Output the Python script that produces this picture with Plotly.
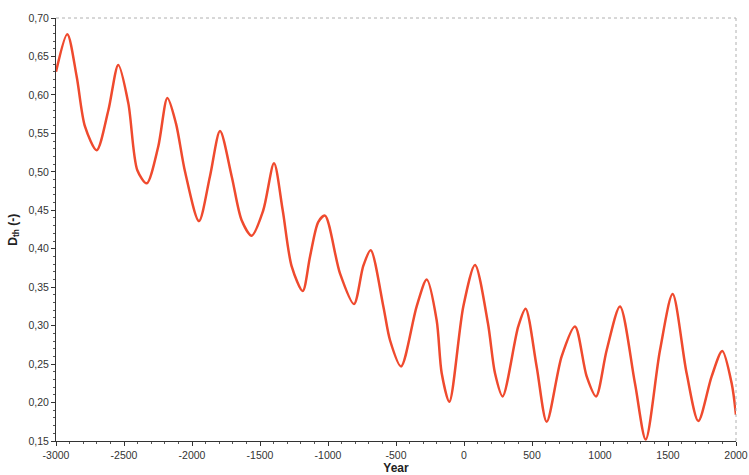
import plotly.graph_objects as go

years = [-3000, -2917, -2848, -2787, -2701, -2615, -2542, -2468, -2402, -2333,
         -2248, -2181, -2118, -2051, -1949, -1868, -1794, -1708, -1635, -1561,
         -1476, -1397, -1333, -1267, -1186, -1132, -1071, -1022, -912, -809,
         -740, -686, -593, -544, -463, -348, -274, -201, -164, -108,
         -5, 81, 176, 228, 284, 399, 453, 534, 608, 718,
         816, 902, 971, 1049, 1147, 1257, 1336, 1441, 1534, 1637,
         1723, 1821, 1899, 1968, 2000]
dth = [0.630, 0.679, 0.624, 0.559, 0.528, 0.580, 0.639, 0.589, 0.502, 0.485,
       0.533, 0.596, 0.563, 0.500, 0.436, 0.494, 0.553, 0.494, 0.437, 0.417,
       0.450, 0.511, 0.450, 0.377, 0.345, 0.390, 0.435, 0.443, 0.368, 0.328,
       0.378, 0.398, 0.325, 0.281, 0.247, 0.325, 0.360, 0.307, 0.238, 0.201,
       0.325, 0.379, 0.303, 0.238, 0.208, 0.299, 0.322, 0.247, 0.175, 0.260,
       0.299, 0.234, 0.208, 0.268, 0.325, 0.225, 0.152, 0.268, 0.341, 0.238,
       0.176, 0.234, 0.267, 0.225, 0.184]

x_ticks = [-3000, -2500, -2000, -1500, -1000, -500, 0, 500, 1000, 1500, 2000]
x_labels = ["-3000", "-2500", "-2000", "-1500", "-1000", "-500", "0", "500", "1000", "1500", "2000"]
y_ticks = [0.15, 0.20, 0.25, 0.30, 0.35, 0.40, 0.45, 0.50, 0.55, 0.60, 0.65, 0.70]
y_labels = ["0,15", "0,20", "0,25", "0,30", "0,35", "0,40", "0,45", "0,50", "0,55", "0,60", "0,65", "0,70"]

fig = go.Figure()
fig.add_trace(go.Scatter(
    x=years, y=dth, mode="lines",
    line=dict(color="#ef4a2e", width=2.5, shape="spline", smoothing=0.8),
    showlegend=False, hoverinfo="skip"))

font_family = "Liberation Sans, Arial, sans-serif"
tickfont = dict(family=font_family, size=10.5, color="#333333")

fig.update_layout(
    width=749, height=475,
    margin=dict(l=56, r=13, t=18, b=34, autoexpand=False),
    paper_bgcolor="white", plot_bgcolor="white",
    xaxis=dict(
        range=[-3000, 2000], tickmode="array", tickvals=x_ticks, ticktext=x_labels,
        showgrid=False, zeroline=False, showline=True, linecolor="#333333", linewidth=1,
        ticks="outside", ticklen=4, tickcolor="#333333", tickfont=tickfont, automargin=False,
        minor=dict(tickmode="linear", tick0=-3000, dtick=100, ticks="outside",
                   ticklen=2, tickcolor="#555555"),
        title=dict(text="<b>Year</b>", font=dict(family=font_family, size=12, color="#222222"),
                   standoff=3),
    ),
    yaxis=dict(
        range=[0.15, 0.70], tickmode="array", tickvals=y_ticks, ticktext=y_labels,
        showgrid=False, zeroline=False, showline=True, linecolor="#333333", linewidth=1,
        ticks="outside", ticklen=4, tickcolor="#333333", tickfont=tickfont, automargin=False,
        minor=dict(tickmode="linear", tick0=0.15, dtick=0.01, ticks="outside",
                   ticklen=2, tickcolor="#555555"),
    ),
    annotations=[
        dict(text="<b>D<sub>th</sub> (-)</b>", xref="paper", yref="paper",
             x=-0.063, y=0.5, textangle=-90, showarrow=False,
             xanchor="center", yanchor="middle",
             font=dict(family=font_family, size=12, color="#222222")),
    ],
    shapes=[
        dict(type="line", xref="paper", yref="paper", x0=0, x1=1, y0=1, y1=1,
             line=dict(color="#b0b0b0", width=1, dash="dot")),
        dict(type="line", xref="paper", yref="paper", x0=1, x1=1, y0=0, y1=1,
             line=dict(color="#b0b0b0", width=1, dash="dot")),
    ],
)

fig.write_html("out.html", config={"displayModeBar": False},
               post_script="document.body.style.margin='0';document.body.style.overflow='hidden';")
